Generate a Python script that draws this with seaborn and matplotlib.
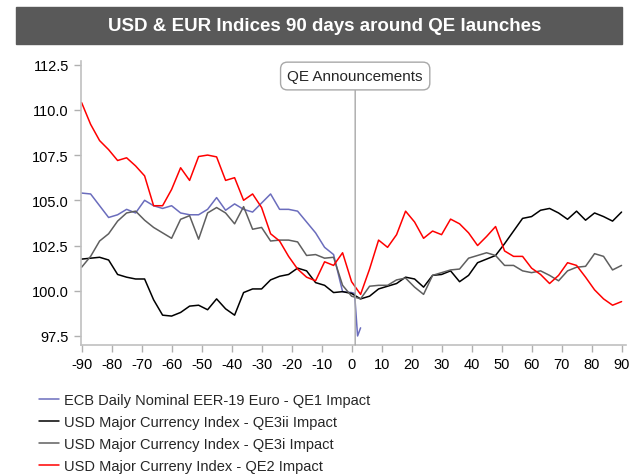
import numpy as np
import pandas as pd
import seaborn as sns
import matplotlib.pyplot as plt
from matplotlib.patches import Rectangle

# days around the QE announcement (every 3rd trading day)
days = list(range(-90, 91, 3))

qe2 = [110.4, 109.2, 108.3, 107.8, 107.2, 107.35, 106.9, 106.35, 104.7, 104.7,
       105.6, 106.8, 106.1, 107.42, 107.5, 107.4, 106.1, 106.25, 105.0, 105.35,
       104.6, 103.15, 102.75, 101.9, 101.2, 100.75, 100.55, 101.6, 101.4, 102.1,
       100.5, 99.8, 101.2, 102.8, 102.4, 103.1, 104.4, 103.8, 102.9, 103.3,
       103.1, 103.96, 103.7, 103.2, 102.5, 103.0, 103.55, 102.2, 101.9, 101.9,
       101.25, 100.9, 100.4, 100.85, 101.55, 101.4, 100.75, 100.05, 99.55, 99.2,
       99.4]

qe3i = [101.3, 101.9, 102.75, 103.15, 103.85, 104.3, 104.4, 103.9, 103.5, 103.2,
        102.9, 103.95, 104.15, 102.85, 104.3, 104.6, 104.3, 103.7, 104.65, 103.4,
        103.5, 102.75, 102.8, 102.8, 102.7, 101.95, 102.0, 101.8, 101.85, 100.3,
        99.7, 99.55, 100.25, 100.3, 100.3, 100.6, 100.7, 100.2, 99.8, 100.85,
        101.0, 101.15, 101.2, 101.8, 101.95, 102.1, 101.95, 101.4, 101.4, 101.1,
        101.0, 101.1, 100.85, 100.55, 101.1, 101.3, 101.35, 102.05, 101.9, 101.15,
        101.4]

qe3ii = [101.75, 101.8, 101.85, 101.7, 100.9, 100.75, 100.65, 100.65, 99.5, 98.65,
         98.6, 98.8, 99.15, 99.2, 98.95, 99.55, 99.0, 98.65, 99.9, 100.1,
         100.1, 100.6, 100.8, 100.9, 101.25, 101.1, 100.45, 100.3, 99.9, 99.95,
         99.85, 99.55, 99.7, 100.1, 100.25, 100.4, 100.75, 100.65, 100.2, 100.85,
         100.9, 101.1, 100.5, 100.85, 101.55, 101.75, 101.95, 102.6, 103.3, 104.0,
         104.1, 104.45, 104.55, 104.3, 103.95, 104.4, 103.9, 104.3, 104.1, 103.85,
         104.35]

# euro series stops just after the announcement
eur_days = list(range(-90, 1, 3)) + [1, 2, 3]
eur_qe1 = [105.4, 105.35, 104.7, 104.05, 104.2, 104.5, 104.3, 105.0, 104.7, 104.55,
           104.7, 104.3, 104.2, 104.2, 104.5, 105.15, 104.45, 104.8, 104.5, 104.35,
           104.85, 105.35, 104.5, 104.5, 104.4, 103.8, 103.2, 102.4, 102.0, 99.95,
           99.9, 99.85, 97.5, 97.95]

labels = ["ECB Daily Nominal EER-19 Euro - QE1 Impact",
          "USD Major Currency Index - QE3ii Impact",
          "USD Major Currency Index - QE3i Impact",
          "USD Major Curreny Index - QE2 Impact"]
colors = ["#6b6dbd", "#000000", "#5f5f5f", "#ff0000"]

sns.set_style("white")
plt.rcParams['font.family'] = ['Liberation Sans', 'DejaVu Sans']
plt.rcParams['axes.unicode_minus'] = False

fig = plt.figure(figsize=(6.34, 4.77), dpi=100)
ax = fig.add_axes([0.1273, 0.2746, 0.987 - 0.1273, 0.870 - 0.2746])

series = [(eur_days, eur_qe1), (days, qe3ii), (days, qe3i), (days, qe2)]
for (x, y), lab, c in zip(series, labels, colors):
    sns.lineplot(x=x, y=y, ax=ax, color=c, label=lab, linewidth=1.1)

ax.set_xlim(-90.3, 91.4)
ax.set_ylim(97.0, 112.7)
ax.set_xticks(range(-90, 91, 10))
ax.set_yticks([97.5, 100.0, 102.5, 105.0, 107.5, 110.0, 112.5])
ax.set_yticklabels(["97.5", "100.0", "102.5", "105.0", "107.5", "110.0", "112.5"])
ax.tick_params(axis='both', labelsize=10.5, colors='#b0b0b0', labelcolor='#000000',
               length=5, width=1, direction='out', left=True, bottom=True)
for s in ['top', 'right']:
    ax.spines[s].set_visible(False)
for s in ['left', 'bottom']:
    ax.spines[s].set_color('#c0c0c0')
    ax.spines[s].set_linewidth(1.2)
ax.set_xlabel("")
ax.set_ylabel("")

ax.annotate("QE Announcements", xy=(1.2, 97.0), xytext=(1.2, 111.87),
            ha='center', va='center', fontsize=11, annotation_clip=False,
            bbox=dict(boxstyle='round,pad=0.45', fc='white', ec='#a8a8a8', lw=1),
            arrowprops=dict(arrowstyle='-', color='#a8a8a8', lw=1, shrinkA=0, shrinkB=0))

ax.legend(loc='upper left', bbox_to_anchor=(0.052, 0.186), bbox_transform=fig.transFigure,
          frameon=False, fontsize=10.5, handlelength=1.4, handletextpad=0.3,
          labelspacing=0.55, borderaxespad=0)

# title banner
fig.patches.append(Rectangle((16 / 634, 1 - 45 / 477), 606 / 634, 37 / 477,
                             transform=fig.transFigure, color='#595959', zorder=0))
fig.text(324.5 / 634, 1 - 26.5 / 477, "USD & EUR Indices 90 days around QE launches",
         ha='center', va='center', color='white', fontsize=13.5, fontweight='bold')

fig.savefig("out.png", dpi=100)
